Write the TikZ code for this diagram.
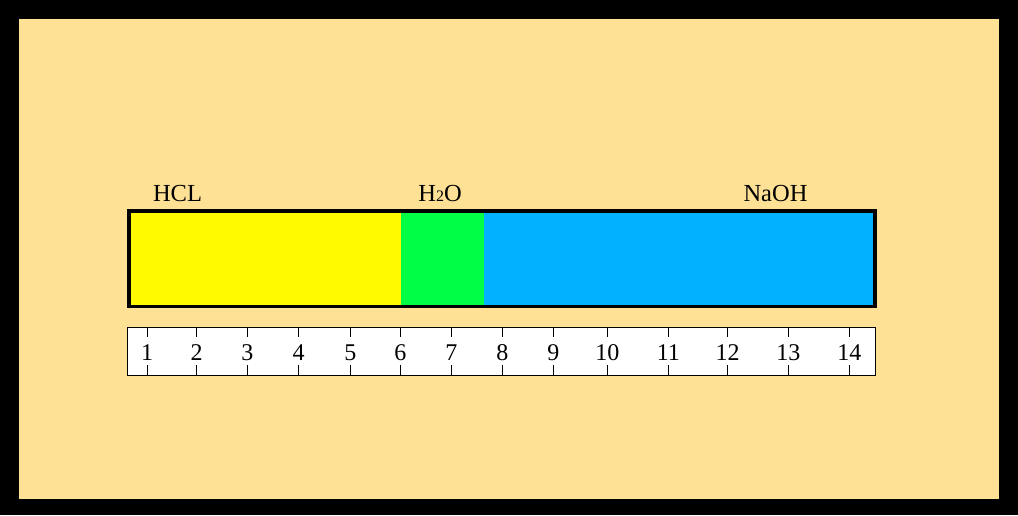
\documentclass[tikz,border=0pt]{standalone}
\usepackage{fontspec}
\setmainfont{Liberation Serif}
\definecolor{cream}{RGB}{255,225,150}
\definecolor{acid}{RGB}{255,250,0}
\definecolor{neutral}{RGB}{0,255,68}
\definecolor{base}{RGB}{0,178,255}
\begin{document}
\begin{tikzpicture}[x=1pt,y=-1pt,
  lbl/.style={font=\fontsize{24.5}{24.5}\selectfont, inner sep=0pt, anchor=base},
  num/.style={font=\fontsize{24}{24}\selectfont, inner sep=0pt, anchor=base},
  tick/.style={line width=0.8pt}]
\useasboundingbox (0,0) rectangle (1018,515);
\fill[black] (0,0) rectangle (1018,515);
\fill[cream] (19,19) rectangle (999,499);
% bar
\fill[acid] (129,211) rectangle (401,306.3);
\fill[neutral] (401,211) rectangle (484,306.3);
\fill[base] (484,211) rectangle (875,306.3);
\node[draw, line width=3.5pt, outer sep=0pt, minimum width=746pt, minimum height=95.3pt, inner sep=0pt, anchor=north west] (bar) at (129,211) {};
% labels
\node[lbl] (hcl) at (177.5,201) {HCL};
\node[lbl] (h2o) at (440,201) {H{\fontsize{16}{16}\selectfont 2}O};
\node[lbl] (naoh) at (775.5,201) {NaOH};
% scale
\node[draw, fill=white, line width=1pt, outer sep=0pt, minimum width=748pt, minimum height=48pt, inner sep=0pt, anchor=north west] (scale) at (127,327) {};
\foreach \n/\x in {1/147,2/196.7,3/247.3,4/298.7,5/350.3,6/400.3,7/451.3,8/502.3,9/553.3,10/607.3,11/668.3,12/727.7,13/788.3,14/849.3}{
  \draw[tick] (\x,327) -- (\x,337);
  \draw[tick] (\x,365) -- (\x,375);
  \node[num] (n\n) at (\x,360) {\n};
}
\end{tikzpicture}
\end{document}
